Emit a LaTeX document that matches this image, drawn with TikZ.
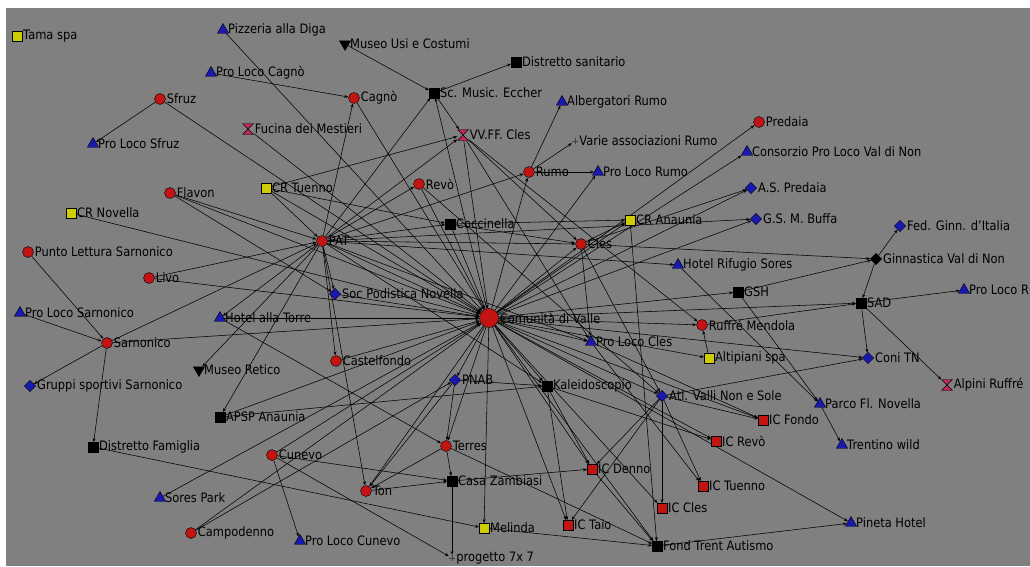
\documentclass[tikz,border=0pt]{standalone}
\usepackage{fontspec}
\setmainfont{DejaVu Sans}[FakeStretch=0.88]
\usetikzlibrary{arrows.meta,shapes.geometric}
\definecolor{bggray}{RGB}{128,128,128}
\definecolor{nred}{RGB}{195,20,20}
\definecolor{nblue}{RGB}{25,25,175}
\definecolor{nyellow}{RGB}{205,205,0}
\definecolor{npink}{RGB}{190,40,95}
\pgfdeclarelayer{bglayer}\pgfdeclarelayer{edgelayer}
\pgfsetlayers{bglayer,edgelayer,main}
\tikzset{
 mk/.style={inner sep=0pt, draw=black, line width=0.4pt},
 rc/.style={mk, circle, fill=nred, minimum size=11pt},
 bigc/.style={mk, circle, fill=nred, minimum size=19pt},
 bt/.style={mk, regular polygon, regular polygon sides=3, fill=nblue, minimum size=13pt},
 kdt/.style={bt, shape border rotate=180, fill=black},
 bd/.style={mk, diamond, fill=nblue, minimum size=11.5pt},
 kd/.style={bd, fill=black},
 ks/.style={mk, rectangle, fill=black, minimum size=9.5pt},
 ys/.style={ks, fill=nyellow},
 rs/.style={ks, fill=nred},
 hg/.style={rectangle, minimum size=11pt, inner sep=0pt, path picture={\filldraw[fill=npink, draw=black, line width=0.4pt] (path picture bounding box.north west) -- (path picture bounding box.north east) -- (path picture bounding box.south west) -- (path picture bounding box.south east) -- cycle;}},
 pls/.style={rectangle, minimum size=6pt, inner sep=0pt, path picture={\draw[black!75, line width=0.6pt] (path picture bounding box.north) -- (path picture bounding box.south) (path picture bounding box.west) -- (path picture bounding box.east);}},
 lbl/.style={anchor=west, inner sep=0pt, xshift=1pt, font=\fontsize{13}{15}\selectfont, text=black},
 conn/.style={draw=black, line width=0.55pt, -{Stealth[length=4pt,width=3pt]}},
}
\newcommand\nd[5]{\node[#2] (#1) at (#3,#4) {}; \node[lbl] (#1-l) at (#1.east) {#5};}
\begin{document}
\begin{tikzpicture}[x=1pt,y=-1pt]
\useasboundingbox (0,0) rectangle (1030,566);
\begin{pgfonlayer}{bglayer}
\fill[white] (0,0) rectangle (1030,566);
\fill[bggray] (6,8) rectangle (1030,566);
\end{pgfonlayer}
\nd{tama}{ys}{17}{36}{Tama spa}
\nd{pizz}{bt}{223}{30}{Pizzeria alla Diga}
\nd{plcag}{bt}{211}{73}{Pro Loco Cagnò}
\nd{musu}{kdt}{345}{44}{Museo Usi e Costumi}
\nd{dsan}{ks}{516}{62}{Distretto sanitario}
\nd{scm}{ks}{434}{93}{Sc. Music. Eccher}
\nd{sfruz}{rc}{160}{99}{Sfruz}
\nd{cagno}{rc}{354}{98}{Cagnò}
\nd{albr}{bt}{562}{102}{Albergatori Rumo}
\nd{plsf}{bt}{93}{144}{Pro Loco Sfruz}
\nd{fuc}{hg}{248}{129}{Fucina dei Mestieri}
\nd{vvff}{hg}{463}{135}{VV.FF. Cles}
\nd{varie}{pls}{575}{141}{Varie associazioni Rumo}
\nd{pred}{rc}{759}{122}{Predaia}
\nd{cons}{bt}{747}{152}{Consorzio Pro Loco Val di Non}
\nd{rumo}{rc}{529}{172}{Rumo}
\nd{plrumo}{bt}{598}{172}{Pro Loco Rumo}
\nd{revo}{rc}{419}{184}{Revò}
\nd{crtu}{ys}{266}{188}{CR Tuenno}
\nd{flav}{rc}{170}{193}{Flavon}
\nd{aspred}{bd}{751}{188}{A.S. Predaia}
\nd{crnov}{ys}{71}{213}{CR Novella}
\nd{cocc}{ks}{450}{224}{Coccinella}
\nd{cran}{ys}{630}{220}{CR Anaunia}
\nd{gsm}{bd}{756}{219}{G.S. M. Buffa}
\nd{fedg}{bd}{900}{226}{Fed. Ginn. d'Italia}
\nd{pat}{rc}{322}{241}{PAT}
\nd{cles}{rc}{581}{244}{Cles}
\nd{punto}{rc}{28}{252}{Punto Lettura Sarnonico}
\nd{ginn}{kd}{876}{259}{Ginnastica Val di Non}
\nd{hrs}{bt}{678}{265}{Hotel Rifugio Sores}
\nd{livo}{rc}{149}{278}{Livo}
\nd{gsh}{ks}{738}{292}{GSH}
\nd{soc}{bd}{335}{294}{Soc Podistica Novella}
\nd{plr}{bt}{964}{290}{Pro Loco R}
\nd{sad}{ks}{861}{303}{SAD}
\nd{plsar}{bt}{20}{313}{Pro Loco Sarnonico}
\nd{hat}{bt}{220}{318}{Hotel alla Torre}
\nd{cdv}{bigc}{489}{318}{Comunità di Valle}
\nd{ruff}{rc}{702}{325}{Ruffré Mendola}
\nd{sarn}{rc}{107}{343}{Sarnonico}
\nd{plcles}{bt}{591}{342}{Pro Loco Cles}
\nd{castel}{rc}{336}{361}{Castelfondo}
\nd{alti}{ys}{709}{358}{Altipiani spa}
\nd{museoret}{kdt}{199}{370}{Museo Retico}
\nd{coni}{bd}{868}{358}{Coni TN}
\nd{pnab}{bd}{455}{380}{PNAB}
\nd{gruppi}{bd}{30}{386}{Gruppi sportivi Sarnonico}
\nd{kal}{ks}{547}{386}{Kaleidoscopio}
\nd{alpini}{hg}{947}{385}{Alpini Ruffré}
\nd{atl}{bd}{662}{396}{Atl. Valli Non e Sole}
\nd{parco}{bt}{820}{404}{Parco Fl. Novella}
\nd{apsp}{ks}{220}{417}{APSP Anaunia}
\nd{icf}{rs}{763}{420}{IC Fondo}
\nd{terres}{rc}{446}{446}{Terres}
\nd{dfam}{ks}{93}{447}{Distretto Famiglia}
\nd{trent}{bt}{842}{445}{Trentino wild}
\nd{icr}{rs}{716}{441}{IC Revò}
\nd{cunevo}{rc}{272}{455}{Cunevo}
\nd{icd}{rs}{592}{469}{IC Denno}
\nd{ton}{rc}{366}{491}{Ton}
\nd{casa}{ks}{452}{481}{Casa Zambiasi}
\nd{sores}{bt}{160}{498}{Sores Park}
\nd{ict}{rs}{703}{486}{IC Tuenno}
\nd{icc}{rs}{662}{508}{IC Cles}
\nd{mel}{ys}{484}{528}{Melinda}
\nd{ictaio}{rs}{568}{525}{IC Taio}
\nd{pineta}{bt}{851}{523}{Pineta Hotel}
\nd{campo}{rc}{191}{533}{Campodenno}
\nd{plcun}{bt}{300}{541}{Pro Loco Cunevo}
\nd{fond}{ks}{657}{546}{Fond Trent Autismo}
\nd{prog}{pls}{452}{558}{progetto 7x 7}
\begin{pgfonlayer}{edgelayer}
\foreach \a/\b in {pizz/cdv, plcag/cagno, musu/scm, scm/dsan, scm/vvff, pat/scm, cdv/scm,
 pat/cagno, cagno/cdv, sfruz/plsf, sfruz/cdv, fuc/cdv,
 rumo/albr, rumo/varie, rumo/plrumo, cdv/rumo, cdv/plrumo, pat/rumo,
 crtu/vvff, pat/vvff, vvff/cles, vvff/cdv, vvff/plcles, vvff/ruff,
 cdv/pred, cdv/cons, cles/aspred, cdv/aspred, cdv/gsm, pat/gsm, pat/hrs,
 hrs/parco, gsh/parco, parco/trent, ginn/fedg, cles/ginn, gsh/ginn, ginn/sad,
 sad/plr, sad/coni, sad/alpini, ruff/sad, cdv/sad, cdv/coni, atl/coni,
 cdv/ruff, alti/ruff, cdv/alti, cdv/gsh, cdv/plcles, cles/plcles,
 revo/atl, atl/icd, atl/ictaio, atl/icc, atl/icf, atl/ict,
 cdv/icr, kal/icr, plcles/ict, plcles/icf, cdv/icf, cdv/pineta, fond/pineta,
 cdv/icc, kal/icd, cdv/icd, casa/icd, icd/fond, kal/ictaio, cdv/ictaio,
 mel/fond, dfam/mel, terres/fond, cran/fond,
 cunevo/prog, cunevo/casa, cunevo/plcun, cunevo/cdv, campo/cdv, campo/pnab, sores/cdv,
 pat/apsp, pat/museoret, apsp/cdv, hat/cdv, pat/hat, hat/terres,
 punto/sarn, plsar/sarn, sarn/gruppi, sarn/dfam, sarn/pat, sarn/cdv,
 crnov/cdv, livo/cdv, livo/pat, flav/pat, flav/soc, flav/cdv,
 crtu/pat, crtu/cdv, crtu/cocc, revo/cdv, pat/revo,
 pat/cocc, cocc/cles, cocc/cran, cocc/cdv, pat/cles,
 pat/soc, pat/castel, pat/ton, pat/cdv, soc/cdv, castel/cdv,
 pnab/terres, pnab/ton, pnab/kal, apsp/kal, cdv/pnab, cdv/terres,
 terres/casa, terres/ton, ton/casa, cdv/ton, cdv/mel, casa/prog,
 cdv/kal, cles/cran, cdv/cran, cdv/cles, cles/atl, cdv/atl,
 pat/kal, pat/plcles, cdv/fond}
 {\draw[conn] (\a) -- (\b);}
\end{pgfonlayer}
\end{tikzpicture}
\end{document}
